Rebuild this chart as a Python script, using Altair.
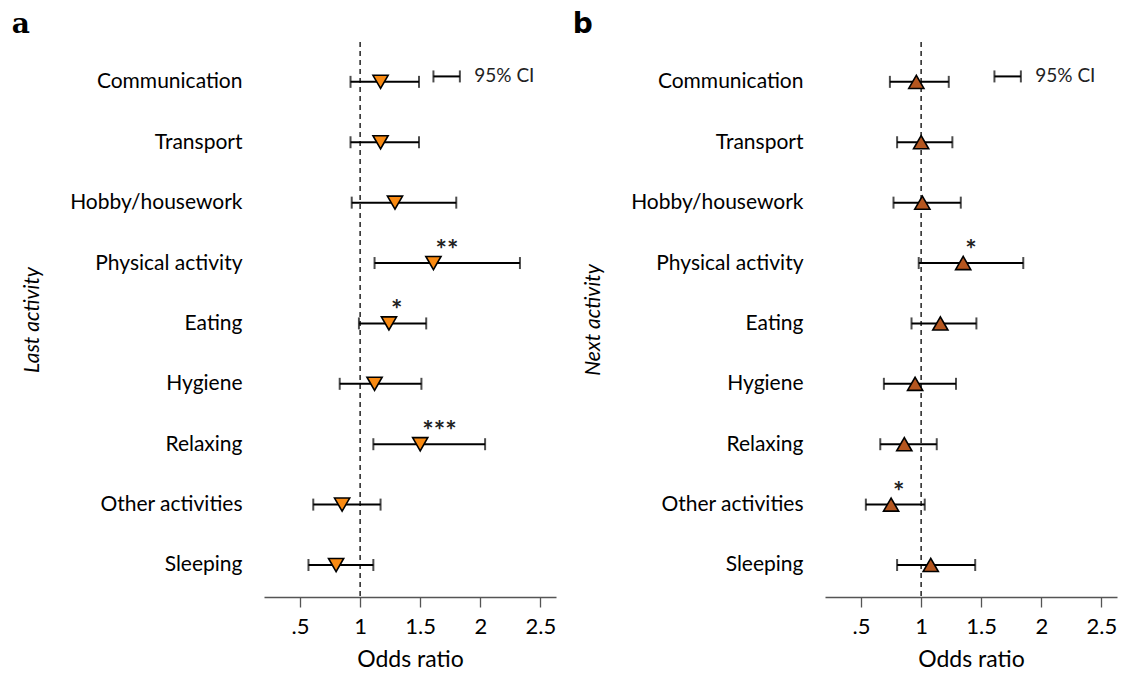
import altair as alt
import pandas as pd

categories = ["Communication", "Transport", "Hobby/housework", "Physical activity",
              "Eating", "Hygiene", "Relaxing", "Other activities", "Sleeping"]

last_or = [1.17, 1.17, 1.29, 1.61, 1.24, 1.12, 1.50, 0.85, 0.80]
last_lo = [0.92, 0.92, 0.93, 1.12, 0.99, 0.83, 1.11, 0.61, 0.57]
last_hi = [1.49, 1.49, 1.80, 2.33, 1.55, 1.51, 2.04, 1.17, 1.11]
last_sig = ["", "", "", "**", "*", "", "***", "", ""]

next_or = [0.96, 1.00, 1.01, 1.35, 1.16, 0.95, 0.86, 0.75, 1.08]
next_lo = [0.74, 0.80, 0.77, 0.98, 0.92, 0.69, 0.66, 0.54, 0.80]
next_hi = [1.23, 1.26, 1.33, 1.85, 1.46, 1.29, 1.13, 1.03, 1.45]
next_sig = ["", "", "", "*", "", "", "", "*", ""]

major_ticks = [0.5, 1, 1.5, 2, 2.5]
tick_labels = [".5", "1", "1.5", "2", "2.5"]
minor_ticks = [0.75, 1.25, 1.75, 2.25]

legend_lo = [1.61]
legend_hi = [1.83]
legend_pos = [0.91]
legend_text_x = [1.95]
legend_label = ["95% CI"]

FONT = "Lato"

def make_df(o, lo, hi, sig):
    return pd.DataFrame({
        "activity": categories,
        "pos": list(range(1, len(categories) + 1)),
        "or": o, "lo": lo, "hi": hi, "sig": sig,
    })

leg_df = pd.DataFrame({"lo": legend_lo, "hi": legend_hi, "pos": legend_pos,
                       "tx": legend_text_x, "label": legend_label})

x_scale = alt.Scale(domain=[0.2, 2.63], nice=False, zero=False)
y_scale = alt.Scale(domain=[0.34, 9.53], reverse=True, nice=False, zero=False)

cat_js = "[" + ",".join("'" + c + "'" for c in categories) + "]"
maj_js = "[" + ",".join(str(v) for v in major_ticks) + "]"
lab_js = "[" + ",".join("'" + t + "'" for t in tick_labels) + "]"

all_ticks = sorted(major_ticks + minor_ticks)

x_axis = alt.Axis(
    values=all_ticks,
    labelExpr=f"indexof({maj_js}, datum.value) >= 0 ? {lab_js}[indexof({maj_js}, datum.value)] : ''",
    title="Odds ratio", grid=False,
    tickSize={"condition": {"test": "datum.value % 0.5 == 0", "value": 10}, "value": 5},
    domainColor="#555", tickColor="#555", domainWidth=1.3, tickWidth=1.3,
    labelFontSize=22, labelFont=FONT, labelColor="black", labelPadding=9,
    titleFontSize=23, titleFont=FONT, titleFontWeight="normal", titleColor="black",
    titlePadding=11, labelFlush=False,
)


def panel(df, color, shape, ytitle, ptitle, pfont):
    y_axis = alt.Axis(
        values=list(range(1, len(categories) + 1)),
        labelExpr=f"{cat_js}[datum.value - 1]",
        domain=False, ticks=False, grid=False,
        labelFontSize=21, labelFont=FONT, labelColor="black", labelPadding=22,
        title=ytitle, titleFontSize=21, titleFont=FONT, titleFontStyle="italic",
        titleFontWeight="normal", titleColor="black", titlePadding=27,
    )
    base = alt.Chart(df)
    ref = alt.Chart(pd.DataFrame({"x": [1.0]})).mark_rule(
        strokeDash=[5, 4], color="#222", strokeWidth=1.5
    ).encode(x=alt.X("x:Q", scale=x_scale, axis=x_axis))
    bars = base.mark_rule(color="black", strokeWidth=2).encode(
        x=alt.X("lo:Q", scale=x_scale), x2="hi:Q",
        y=alt.Y("pos:Q", scale=y_scale, axis=y_axis))
    cap_lo = base.mark_tick(orient="vertical", size=12, thickness=2, color="black").encode(
        x="lo:Q", y="pos:Q")
    cap_hi = base.mark_tick(orient="vertical", size=12, thickness=2, color="black").encode(
        x="hi:Q", y="pos:Q")
    pts = base.mark_point(shape=shape, filled=True, fill=color, stroke="black",
                          strokeWidth=1.6, size=230, opacity=1).encode(x="or:Q", y="pos:Q")
    stars = base.mark_text(align="left", baseline="middle", dx=2, dy=-12, fontSize=27,
                           fontWeight="bold", font=FONT, color="#222").encode(
        x="or:Q", y="pos:Q", text="sig:N")
    lb = alt.Chart(leg_df)
    leg_bar = lb.mark_rule(color="black", strokeWidth=2).encode(x="lo:Q", x2="hi:Q", y="pos:Q")
    leg_c1 = lb.mark_tick(orient="vertical", size=12, thickness=2, color="black").encode(x="lo:Q", y="pos:Q")
    leg_c2 = lb.mark_tick(orient="vertical", size=12, thickness=2, color="black").encode(x="hi:Q", y="pos:Q")
    leg_t = lb.mark_text(align="left", baseline="middle", fontSize=19, font=FONT, color="#222").encode(
        x="tx:Q", y="pos:Q", text="label:N")
    return alt.layer(ref, bars, cap_lo, cap_hi, pts, stars, leg_bar, leg_c1, leg_c2, leg_t).properties(
        width=292, height=555,
        title=alt.TitleParams(ptitle, anchor="start", frame="bounds", font=pfont, fontSize=28,
                              fontWeight="bold", dx=-10, offset=2, color="black"),
    )


left = panel(make_df(last_or, last_lo, last_hi, last_sig), "#F98A12", "triangle-down",
             "Last activity", "a", "DejaVu Serif")
right = panel(make_df(next_or, next_lo, next_hi, next_sig), "#B5561F", "triangle-up",
              "Next activity", "b", "DejaVu Sans")

chart = alt.hconcat(left, right, spacing=16).properties(
    padding={"left": 3, "top": 3, "right": 5, "bottom": 5},
    background="white",
).configure_view(stroke=None)

chart.save("out.html", embed_options={"renderer": "svg", "actions": False})
